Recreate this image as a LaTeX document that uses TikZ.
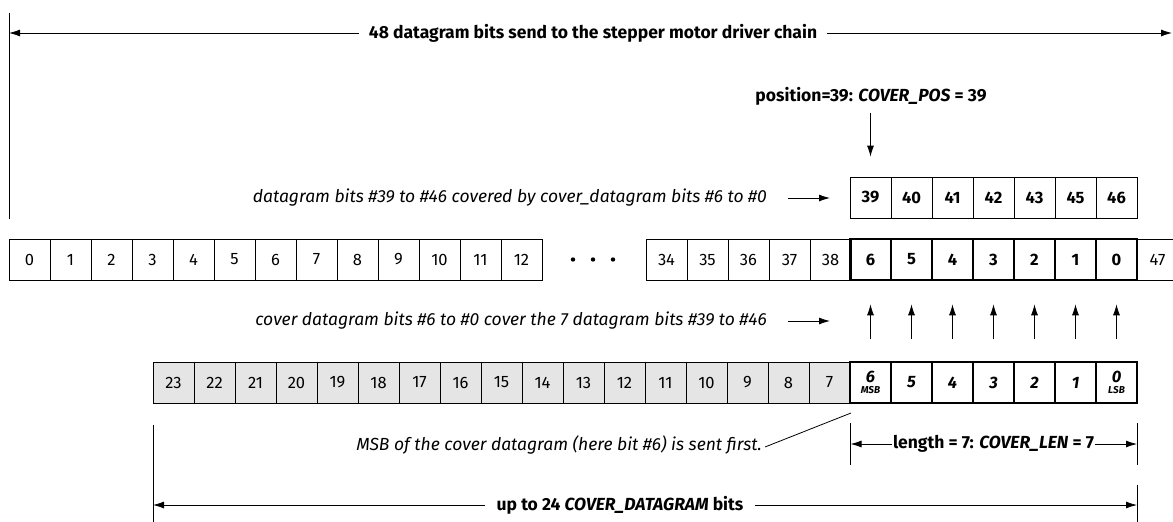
\documentclass[tikz,border=0pt]{standalone}
\usepackage{fontspec}
\setmainfont{Fira Sans}
\usetikzlibrary{arrows.meta,calc}
\begin{document}
\begin{tikzpicture}[x=1pt,y=-1pt,
  cell/.style={draw, line width=0.8pt, minimum width=41pt, minimum height=41pt, inner sep=0pt, font=\fontsize{16.5}{16.5}\selectfont},
  tcell/.style={cell, font=\fontsize{16.5}{16.5}\selectfont\bfseries},
  gcell/.style={cell, fill=black!10},
  bcell/.style={cell, line width=2.6pt, font=\fontsize{16.5}{16.5}\selectfont\bfseries},
  bicell/.style={bcell, font=\fontsize{16.5}{16.5}\selectfont\bfseries\itshape, align=center},
  arr/.style={-{Latex[length=11pt,width=7pt]}, line width=0.8pt},
  plain/.style={line width=0.8pt},
  ilbl/.style={font=\fontsize{17.5}{20}\selectfont\itshape, inner sep=0pt},
  blbl/.style={font=\fontsize{17.5}{20}\selectfont\bfseries, inner sep=0pt}
]
\useasboundingbox (0,0) rectangle (1173,522);

% main row
\foreach \i in {0,...,12} \node[cell] (m\i) at ({9+41*\i+20.5},259.5) {\i};
\foreach \i in {34,...,38} \node[cell] (m\i) at ({646+41*(\i-34)+20.5},259.5) {\i};
\node[cell] (m47) at (1157.5,259.5) {47};
\foreach \k/\v in {0/6,1/5,2/4,3/3,4/2,5/1,6/0} \node[bcell] (mb\v) at ({850+41*\k+20.5},259.5) {\v};
\foreach \x [count=\n] in {573,593,613} \fill (\x,259.5) circle (2.2pt) coordinate (dot\n);

% top row
\foreach \k/\v in {0/39,1/40,2/41,3/42,4/43,5/45,6/46} \node[tcell] (t\v) at ({850+41*\k+20.5},197.5) {\v};

% bottom row
\foreach \j in {0,...,16} {
  \pgfmathtruncatemacro\v{23-\j}
  \node[gcell] (g\v) at ({153+41*\j+20.5},382.5) {\v};
}
\node[bicell] (bb6) at (870.5,382.5) {6\\[-5pt]{\fontsize{10}{10}\selectfont MSB}};
\foreach \k/\v in {1/5,2/4,3/3,4/2,5/1} \node[bicell] (bb\v) at ({850+41*\k+20.5},382.5) {\v};
\node[bicell] (bb0) at (1116.5,382.5) {0\\[-5pt]{\fontsize{10}{10}\selectfont LSB}};

% up arrows
\foreach \v in {6,...,0} \draw[arr, shorten >=23pt, shorten <=22pt] (bb\v.north) -- (mb\v.south);

% title arrow
\node[blbl, inner xsep=10pt] (title) at (593,33) {48 datagram bits send to the stepper motor driver chain};
\coordinate (tl) at (9,33);
\coordinate (tr) at (1172,33);
\draw[arr] (title.west) -- (tl);
\draw[arr] (title.east) -- (tr);
\coordinate (vtop) at (9,13);
\coordinate (vbot) at (9,219);
\draw[plain] (vtop) -- (vbot);

% position
\node[blbl] (pos) at (871,96) {position=39: \textit{COVER\_POS} = 39};
\draw[arr, shorten <=8pt, shorten >=20pt] (pos.south -| t39) -- (t39.north);

% italic label 1
\node[ilbl, anchor=east] (l1) at (767,198) {datagram bits \#39 to \#46 covered by cover\_datagram bits \#6 to \#0};
\coordinate (l1e) at (830,198);
\draw[arr, shorten <=21pt] (l1.east) -- (l1e);

% italic label 2
\node[ilbl, anchor=east] (l2) at (767,321) {cover datagram bits \#6 to \#0 cover the 7 datagram bits \#39 to \#46};
\coordinate (l2e) at (830,321);
\draw[arr, shorten <=21pt] (l2.east) -- (l2e);

% MSB label
\node[ilbl, anchor=east] (msb) at (762,445) {MSB of the cover datagram (here bit \#6) is sent first.};
\coordinate (msbp) at (851,413);
\draw[plain] ($(msb.east)+(3,2)$) -- (msbp);

% length
\coordinate (lenA1) at (850.5,423);
\coordinate (lenA2) at (850.5,465);
\coordinate (lenB1) at (1137,423);
\coordinate (lenB2) at (1137,465);
\draw[plain] (lenA1) -- (lenA2);
\draw[plain] (lenB1) -- (lenB2);
\node[blbl, inner xsep=1pt] (len) at (993.5,444) {length = 7: \textit{COVER\_LEN} = 7};
\coordinate (lenL) at (850.5,444);
\coordinate (lenR) at (1137,444);
\draw[arr] (len.west) -- (lenL);
\draw[arr] (len.east) -- (lenR);

% up to 24
\coordinate (uA1) at (153,425);
\coordinate (uA2) at (153,522);
\coordinate (uB1) at (1137,485);
\coordinate (uB2) at (1137,522);
\draw[plain] (uA1) -- (uA2);
\draw[plain] (uB1) -- (uB2);
\node[blbl, inner xsep=11pt] (upto) at (620,505) {up to 24 \textit{COVER\_DATAGRAM} bits};
\coordinate (uL) at (153,505);
\coordinate (uR) at (1137,505);
\draw[arr] (upto.west) -- (uL);
\draw[arr] (upto.east) -- (uR);
\end{tikzpicture}
\end{document}
